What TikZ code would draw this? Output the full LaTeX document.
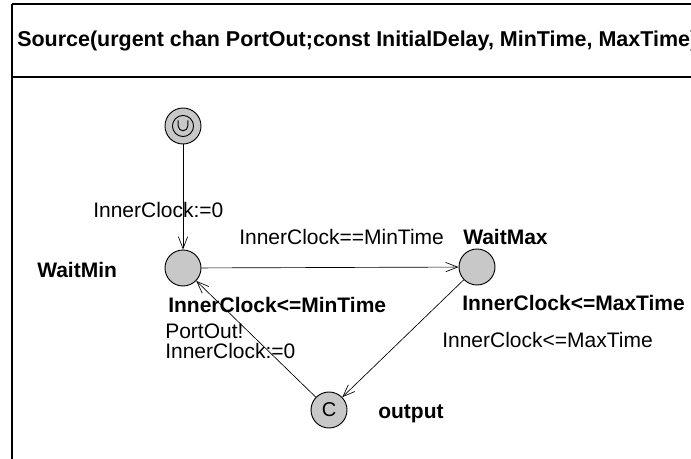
\documentclass[tikz,border=0pt]{standalone}
\usepackage{fontspec}
\setmainfont{Liberation Sans}
\usepackage{xcolor}
\usetikzlibrary{arrows.meta}
\definecolor{locfill}{RGB}{200,200,200}

\tikzset{
  loc/.style={circle, draw, fill=locfill, minimum size=27pt, inner sep=0pt, line width=0.7pt},
  edge/.style={-{Straight Barb[length=9pt, width=7pt, line width=0.5pt]}, line width=0.5pt},
  lbl/.style={anchor=base west, inner sep=0pt, font=\fontsize{15.75}{19}\selectfont},
  blbl/.style={lbl, font=\fontsize{15.75}{19}\selectfont\bfseries},
  frame/.style={line width=1.6pt}
}

\begin{document}
\begin{tikzpicture}[x=0.75pt, y=-0.75pt]
\useasboundingbox (0,0) rectangle (691,459);
\clip (0,0) rectangle (691,459);

% template frame
\draw[frame] (12,4) -- (720,4);
\draw[frame] (12,4) -- (12,480);
\draw[frame] (12,77) -- (720,77);
\node[blbl, font=\fontsize{16.1}{19}\selectfont\bfseries] (title) at (17,47) {Source(urgent chan PortOut;const InitialDelay, MinTime, MaxTime)};

% locations
\node[loc] (init) at (183,126) {};
\draw[line width=0.7pt] (init.center) circle (7.9pt);
\draw[line width=0.7pt] ([xshift=-3.6pt,yshift=4.2pt]init.center) -- ++(0,-4.2pt)
  arc[start angle=180, end angle=360, radius=3.6pt] -- ++(0,4.2pt);

\node[loc] (waitmin) at (183,268) {};
\node[loc] (waitmax) at (477,267) {};
\node[loc, font=\fontsize{15}{17}\selectfont] (output) at (329,410) {C};

% location names and invariants
\node[blbl] (waitminname) at (37,277) {WaitMin};
\node[blbl] (waitmaxname) at (463,245) {WaitMax};
\node[blbl] (outputname) at (378,418) {output};
\node[blbl] (waitmininv) at (168,312) {InnerClock<=MinTime};
\node[blbl] (waitmaxinv) at (462,310) {InnerClock<=MaxTime};

% transitions
\draw[edge] (init) -- (waitmin);
\draw[edge] (waitmin) -- (waitmax);
\draw[edge] (waitmax) -- (output);
\draw[edge] (output) -- (waitmin);

% transition labels
\node[lbl] (resetlbl) at (93,218) {InnerClock:=0};
\node[lbl] (guardmin) at (239,245) {InnerClock==MinTime};
\node[lbl] (guardmax) at (442,347) {InnerClock<=MaxTime};
\node[lbl] (synclbl) at (165,338) {PortOut!};
\node[lbl] (outreset) at (165,358) {InnerClock:=0};

\end{tikzpicture}
\end{document}
